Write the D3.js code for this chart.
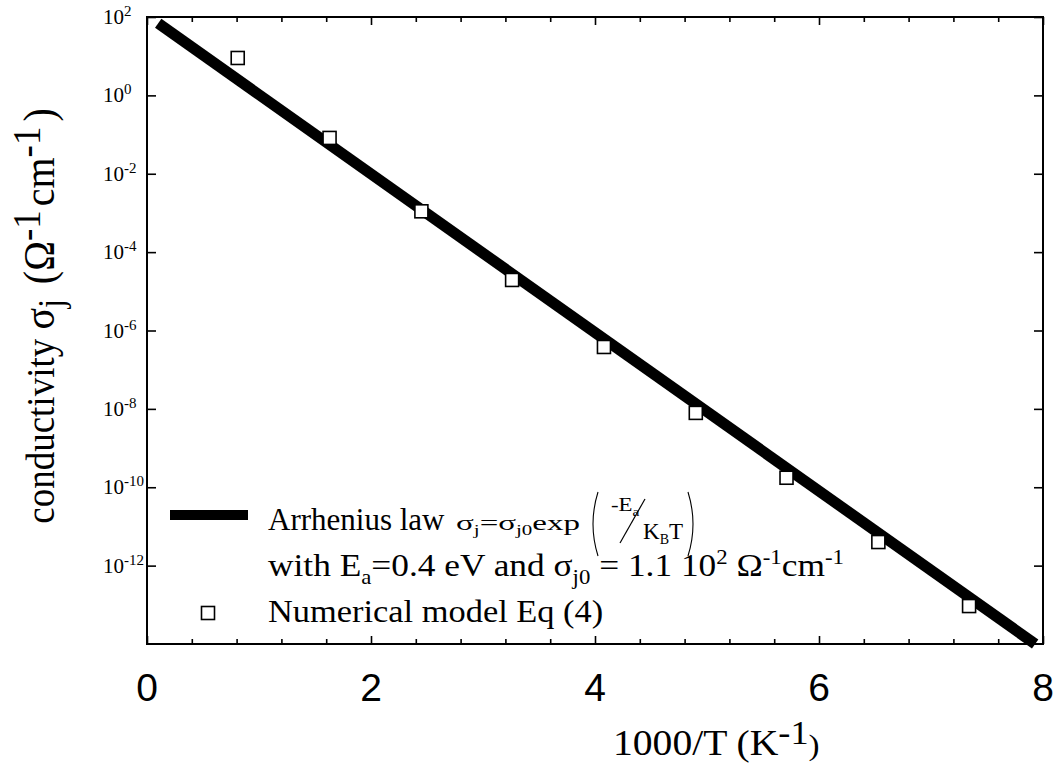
<!DOCTYPE html>
<html>
<head>
<meta charset="utf-8">
<script src="https://cdn.jsdelivr.net/npm/d3@7"></script>
<style>
  body { margin: 0; background: #fff; }
  svg text { font-family: "Liberation Serif", "Times New Roman", serif; fill: #000; }
</style>
</head>
<body>
<div id="container"></div>
<script>
// numerical model points (1000/T, sigma)
const modelX = [0.81, 1.63, 2.45, 3.26, 4.08, 4.90, 5.71, 6.53, 7.34];
const modelY = [9.0, 0.082, 1.1e-3, 1.95e-5, 3.8e-7, 7.9e-9, 1.75e-10, 4.0e-12, 9.3e-14];
// Arrhenius fit line end points
const fitX = [0.1, 7.93];
const fitY = [69, 1.0e-14];
// axis ticks
const xMajor = [0, 2, 4, 6, 8];
const xMinor = [0.4, 0.8, 1.2, 1.6, 2.4, 2.8, 3.2, 3.6, 4.4, 4.8, 5.2, 5.6, 6.4, 6.8, 7.2, 7.6];
const yTicks = [1e2, 1e0, 1e-2, 1e-4, 1e-6, 1e-8, 1e-10, 1e-12];
const yExp = ["2", "0", "-2", "-4", "-6", "-8", "-10", "-12"];

const w = 1057;
const h = 765;
const pLeft = 147, pRight = 1043, pTop = 17, pBottom = 644;

const svg = d3.select("#container")
  .append("svg")
  .attr("width", w)
  .attr("height", h);

const xScale = d3.scaleLinear().domain([0, 8]).range([pLeft, pRight]);
const yScale = d3.scaleLog().domain([1e-14, 1e2]).range([pBottom, pTop]);

// ticks, all pointing inward
function tickAxis(axis, tr, size) {
  const g = svg.append("g")
    .attr("transform", tr)
    .call(axis.tickSize(size).tickSizeOuter(0).tickFormat(""));
  g.select(".domain").remove();
  g.selectAll("line").attr("stroke", "#000").attr("stroke-width", 1.6);
  return g;
}
tickAxis(d3.axisBottom(xScale).tickValues(xMajor), "translate(0," + pBottom + ")", -8);
tickAxis(d3.axisBottom(xScale).tickValues(xMinor), "translate(0," + pBottom + ")", -5);
tickAxis(d3.axisTop(xScale).tickValues(xMajor), "translate(0," + pTop + ")", -8);
tickAxis(d3.axisTop(xScale).tickValues(xMinor), "translate(0," + pTop + ")", -5);
tickAxis(d3.axisLeft(yScale).tickValues(yTicks), "translate(" + pLeft + ",0)", -9);
tickAxis(d3.axisRight(yScale).tickValues(yTicks), "translate(" + pRight + ",0)", -9);

// frame
svg.append("rect")
  .attr("x", pLeft).attr("y", pTop)
  .attr("width", pRight - pLeft).attr("height", pBottom - pTop)
  .attr("fill", "none")
  .attr("stroke", "#000")
  .attr("stroke-width", 2);

// x tick labels (sans)
svg.selectAll(".xlab")
  .data(xMajor)
  .enter()
  .append("text")
  .attr("class", "xlab")
  .attr("x", (d) => xScale(d))
  .attr("y", 701)
  .attr("text-anchor", "middle")
  .style("font-family", "'Liberation Sans', Arial, sans-serif")
  .style("font-size", "39px")
  .text((d) => d);

// y tick labels 10^n
const ylab = svg.selectAll(".ylab")
  .data(yTicks)
  .enter()
  .append("text")
  .attr("class", "ylab")
  .attr("x", 103)
  .attr("y", (d) => yScale(d) + 7)
  .style("font-size", "21px");
ylab.append("tspan").text("10");
ylab.append("tspan")
  .attr("dy", -8)
  .style("font-size", "15px")
  .text((d, i) => yExp[i]);

// fit line
const line = d3.line()
  .x((d) => xScale(d[0]))
  .y((d) => yScale(d[1]));
svg.append("path")
  .datum(fitX.map((d, i) => [d, fitY[i]]))
  .attr("d", line)
  .attr("fill", "none")
  .attr("stroke", "#000")
  .attr("stroke-width", 11);

// model squares
const sq = 13;
svg.selectAll(".pt")
  .data(modelX.map((d, i) => [d, modelY[i]]))
  .enter()
  .append("rect")
  .attr("class", "pt")
  .attr("x", (d) => xScale(d[0]) - sq / 2)
  .attr("y", (d) => yScale(d[1]) - sq / 2)
  .attr("width", sq)
  .attr("height", sq)
  .attr("fill", "#fff")
  .attr("stroke", "#000")
  .attr("stroke-width", 1.6);

// y title
const yt = svg.append("text")
  .attr("transform", "translate(54,316) scale(1.1,1) rotate(-90)")
  .attr("text-anchor", "middle")
  .style("font-size", "37px");
yt.append("tspan").text("conductivity ");
yt.append("tspan").style("font-size", "40px").text("σ");
yt.append("tspan").attr("dy", 8).style("font-size", "32px").text("j");
yt.append("tspan").attr("dy", -8).attr("dx", 5).style("font-size", "40px").text(" (Ω");
yt.append("tspan").attr("dy", -13).style("font-size", "37px").text("-1");
yt.append("tspan").attr("dy", 13).attr("dx", 4).style("font-size", "40px").text("cm");
yt.append("tspan").attr("dy", -13).style("font-size", "37px").text("-1");
yt.append("tspan").attr("dy", 13).attr("dx", 5).style("font-size", "40px").text(")");

// x title
const xt = svg.append("text")
  .attr("transform", "translate(613,755) scale(1.1,1)")
  .style("font-size", "36px");
xt.append("tspan").text("1000/T (K");
xt.append("tspan").attr("dy", -11).style("font-size", "33px").text("-1");
xt.append("tspan").attr("dy", 11).style("font-size", "30px").text(")");

// legend
svg.append("line")
  .attr("x1", 170).attr("x2", 248)
  .attr("y1", 515).attr("y2", 515)
  .attr("stroke", "#000")
  .attr("stroke-width", 10);
svg.append("rect")
  .attr("x", 208 - sq / 2).attr("y", 613 - sq / 2)
  .attr("width", sq).attr("height", sq)
  .attr("fill", "#fff")
  .attr("stroke", "#000")
  .attr("stroke-width", 1.6);

// row 1: Arrhenius law + formula
svg.append("text")
  .attr("transform", "translate(268,530)")
  .style("font-size", "31px")
  .text("Arrhenius law");

const f = svg.append("g").attr("transform", "translate(452,530)");
const ft = f.append("text").attr("transform", "translate(4,0) scale(1.5,1)").style("font-size", "22px");
ft.append("tspan").text("σ");
ft.append("tspan").attr("dy", 5).style("font-size", "14px").text("j");
ft.append("tspan").attr("dy", -5).text("=σ");
ft.append("tspan").attr("dy", 5).style("font-size", "14px").text("j0");
ft.append("tspan").attr("dy", -5).text("exp");
// big parentheses and the fraction Ea / KB T
f.append("path")
  .attr("d", "M146,-38 Q136,-6 146,26")
  .attr("fill", "none").attr("stroke", "#000").attr("stroke-width", 1.1);
f.append("path")
  .attr("d", "M236,-38 Q246,-6 236,26")
  .attr("fill", "none").attr("stroke", "#000").attr("stroke-width", 1.1);
const num = f.append("text")
  .attr("transform", "translate(159,-19) scale(1.2,1)")
  .style("font-size", "19px");
num.append("tspan").text("-E");
num.append("tspan").attr("dy", 5).style("font-size", "13px").text("a");
f.append("line")
  .attr("x1", 168).attr("y1", 13)
  .attr("x2", 193).attr("y2", -31)
  .attr("stroke", "#000").attr("stroke-width", 1.2);
const den = f.append("text")
  .attr("transform", "translate(191,9)")
  .style("font-size", "23px");
den.append("tspan").text("K");
den.append("tspan").attr("dy", 5).style("font-size", "14px").text("B");
den.append("tspan").attr("dy", -5).text("T");

// row 2
const t2 = svg.append("text")
  .attr("transform", "translate(268,576) scale(1.14,1)")
  .style("font-size", "31px");
t2.append("tspan").text("with E");
t2.append("tspan").attr("dy", 8).style("font-size", "20px").text("a");
t2.append("tspan").attr("dy", -8).text("=0.4 eV and  σ");
t2.append("tspan").attr("dy", 8).style("font-size", "20px").text("j0");
t2.append("tspan").attr("dy", -8).text(" = 1.1 10");
t2.append("tspan").attr("dy", -12).style("font-size", "20px").text("2");
t2.append("tspan").attr("dy", 12).text(" Ω");
t2.append("tspan").attr("dy", -12).style("font-size", "20px").text("-1");
t2.append("tspan").attr("dy", 12).text("cm");
t2.append("tspan").attr("dy", -12).style("font-size", "20px").text("-1");

// row 3
svg.append("text")
  .attr("transform", "translate(268,622) scale(1.11,1)")
  .style("font-size", "31px")
  .text("Numerical model Eq (4)");
</script>
</body>
</html>
